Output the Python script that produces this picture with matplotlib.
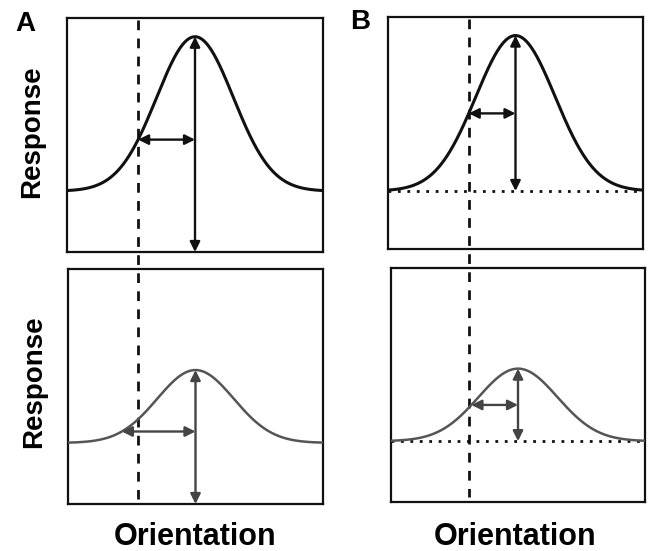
import numpy as np
import matplotlib
matplotlib.use("Agg")
import matplotlib.pyplot as plt
import matplotlib.transforms as mtransforms

plt.rcParams["font.family"] = ["Liberation Sans", "DejaVu Sans"]

# tuning curves: A top, A bottom, B top, B bottom (orientation in deg, response 0..1)
panel_names = ["A_top", "A_bottom", "B_top", "B_bottom"]
peak = [0.92, 0.57, 0.92, 0.57]
baseline = [0.26, 0.26, 0.25, 0.26]
width = [27, 27, 28, 28]
preferred = [0, 0, 0, 0]
arrow_left = [-40, -52, -33, -33]
dashed_x = [-40, -33]          # column A, column B
show_baseline = [False, False, True, True]
vertical_to_floor = [True, True, False, False]

W, H = 648, 551
# axes boxes in pixels: left, top, right, bottom
boxes = [(67, 18, 323, 252), (68, 269, 323, 504), (388, 17, 643, 249), (391, 268, 645, 502)]

fig = plt.figure(figsize=(W / 100, H / 100), dpi=100)


def add_axes_px(left, top, right, bottom):
    return fig.add_axes([left / W, 1 - bottom / H, (right - left) / W, (bottom - top) / H])


axes = []
for i, box in enumerate(boxes):
    ax = add_axes_px(*box)
    ax.set_facecolor("none")
    top_row = i % 2 == 0
    curve_color = "#111111" if top_row else "#555555"
    arrow_color = "#111111" if top_row else "#444444"
    lw = 2.2 if top_row else 1.8

    x = np.linspace(-90, 90, 400)
    amp = peak[i] - baseline[i]
    y = baseline[i] + amp * np.exp(-((x - preferred[i]) ** 2) / (2 * width[i] ** 2))
    ax.plot(x, y, color=curve_color, lw=lw, zorder=3)

    if show_baseline[i]:
        ax.axhline(baseline[i], color="#111111", lw=2.0, linestyle=(0, (1.0, 2.4)), zorder=2)

    # vertical arrow (amplitude)
    y_end = 0 if vertical_to_floor[i] else baseline[i]
    ax.annotate("", xy=(preferred[i], y_end), xytext=(preferred[i], peak[i]),
                arrowprops=dict(arrowstyle="<|-|>", color=arrow_color, lw=1.7,
                                mutation_scale=15, shrinkA=0, shrinkB=0), zorder=4)

    # horizontal arrow (width)
    ya = baseline[i] + amp * np.exp(-((arrow_left[i] - preferred[i]) ** 2) / (2 * width[i] ** 2))
    ax.annotate("", xy=(arrow_left[i], ya), xytext=(preferred[i], ya),
                arrowprops=dict(arrowstyle="<|-|>", color=arrow_color, lw=1.7,
                                mutation_scale=15, shrinkA=0, shrinkB=0), zorder=4)

    ax.set_xlim(-90, 90)
    ax.set_ylim(0, 1)
    ax.set_xticks([])
    ax.set_yticks([])
    for s in ax.spines.values():
        s.set_linewidth(1.6)
        s.set_color("#111111")
    axes.append(ax)

# dashed reference lines running through both rows
for col, xd in enumerate(dashed_x):
    top_ax = axes[2 * col]
    tr = mtransforms.blended_transform_factory(top_ax.transData, fig.transFigure)
    y_top = 1 - (boxes[2 * col][1] + 2) / H
    y_bot = 1 - (boxes[2 * col + 1][3] - 5) / H
    top_ax.plot([xd, xd], [y_top, y_bot], transform=tr, color="#111111", lw=2.0,
                linestyle=(0, (3.5, 3.0)), clip_on=False, zorder=1)

# labels
fig.text(25 / W, 1 - 24 / H, "A", fontsize=20, fontweight="bold", ha="center", va="center")
fig.text(360 / W, 1 - 22 / H, "B", fontsize=20, fontweight="bold", ha="center", va="center")
fig.text(32 / W, 1 - 132 / H, "Response", fontsize=20, fontweight="bold", rotation=90,
         ha="center", va="center")
fig.text(34 / W, 1 - 382 / H, "Response", fontsize=20, fontweight="bold", rotation=90,
         ha="center", va="center")
fig.text(195 / W, 1 - 537 / H, "Orientation", fontsize=22, fontweight="bold", ha="center", va="center")
fig.text(515 / W, 1 - 537 / H, "Orientation", fontsize=22, fontweight="bold", ha="center", va="center")

fig.savefig("out.png", dpi=100)
